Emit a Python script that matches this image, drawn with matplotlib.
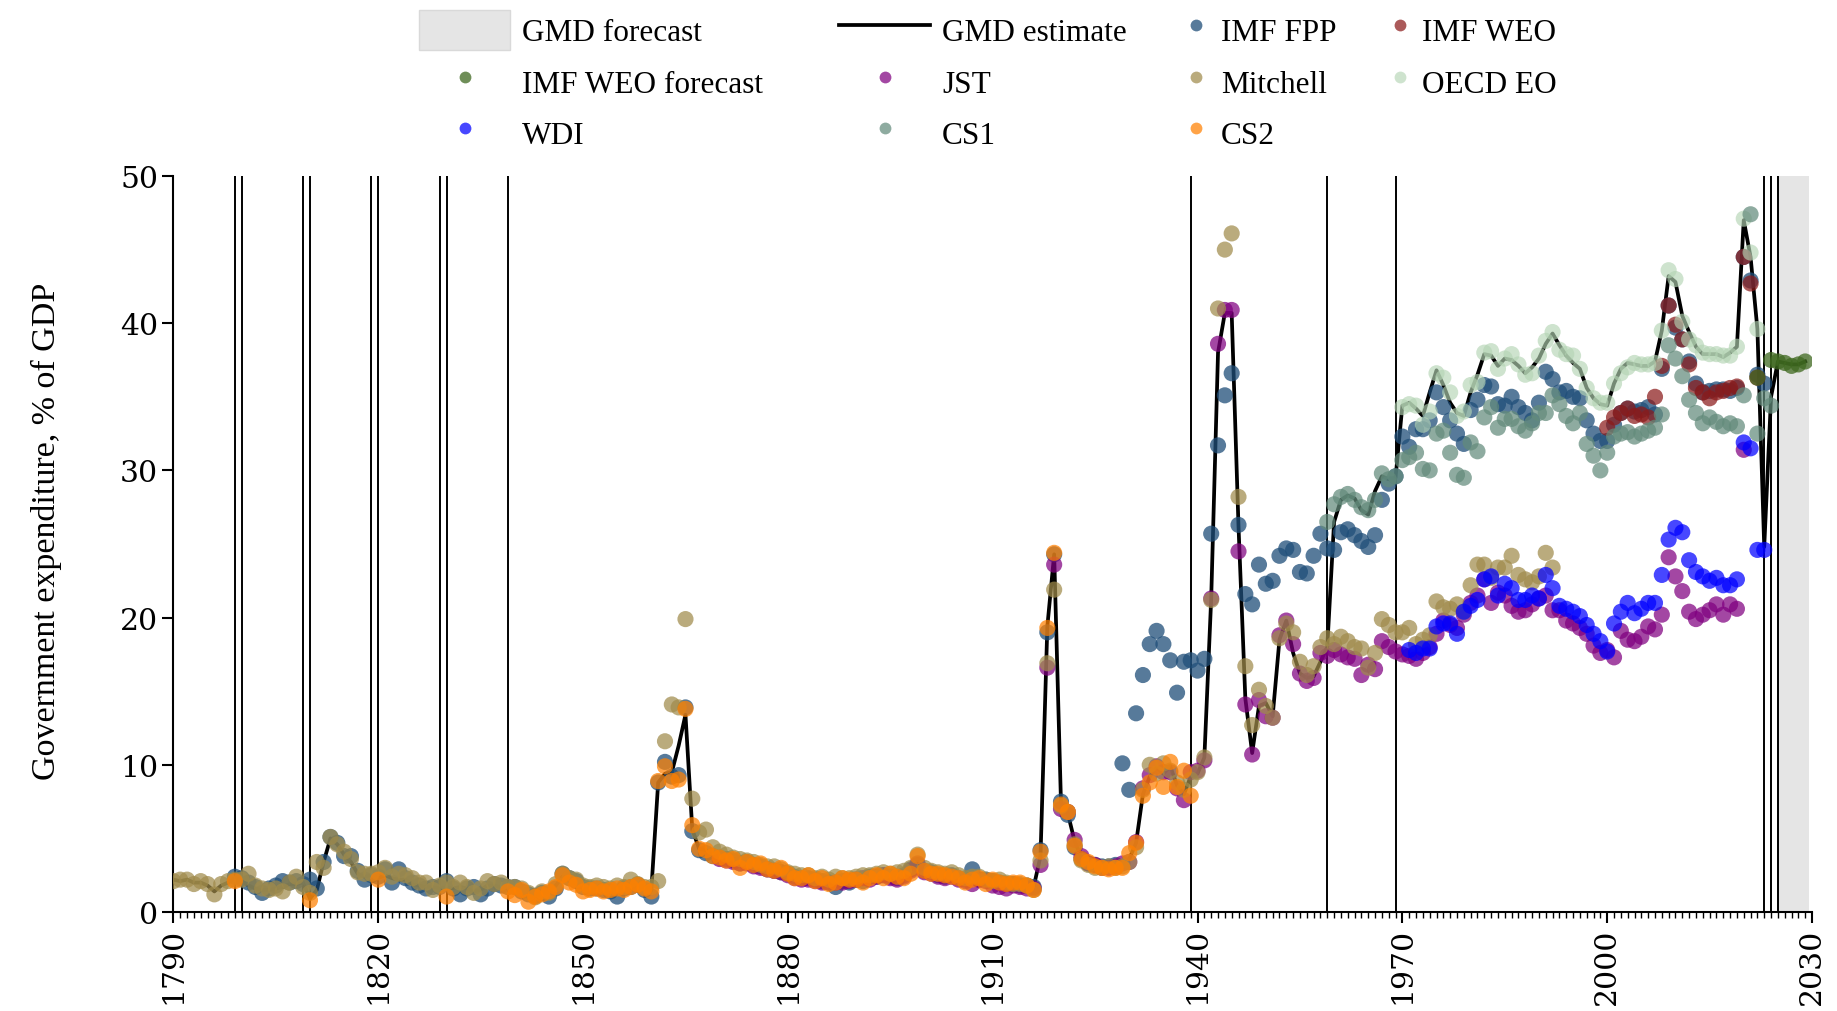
import numpy as np
import matplotlib
matplotlib.use("Agg")
import matplotlib.pyplot as plt
from matplotlib.patches import Patch
from matplotlib.lines import Line2D
from matplotlib.ticker import MultipleLocator

nan = np.nan
plt.rcParams['font.family'] = ['Liberation Serif', 'DejaVu Serif']

# ---------------- data (government expenditure, % of GDP) ----------------
gmd_start = 1790
gmd_values = [
    2.2, 2.1, 2.2, 2.0, 2.0, 1.8, 1.4, 1.8, 2.0, 2.3,      # 1790s
    2.1, 1.8, 1.6, 1.5, 1.5, 1.6, 1.7, 1.9, 1.9, 2.0,      # 1800s
    0.9, 1.5, 3.4, 5.0, 4.6, 3.9, 3.4, 2.6, 2.4, 2.5,      # 1810s
    2.3, 2.5, 2.3, 2.2, 2.2, 1.9, 1.8, 1.7, 1.7, 1.6,      # 1820s
    1.7, 1.6, 1.7, 1.6, 1.4, 1.5, 1.8, 1.8, 1.7, 1.6,      # 1830s
    1.5, 1.3, 1.0, 1.1, 1.3, 1.4, 1.8, 2.4, 2.1, 1.9,      # 1840s
    1.6, 1.5, 1.6, 1.5, 1.5, 1.6, 1.7, 1.8, 1.8, 1.7,      # 1850s
    1.5, 8.8, 9.4, 9.5, 11.3, 13.4, 5.6, 4.3, 4.2, 4.0,    # 1860s
    3.9, 3.7, 3.6, 3.5, 3.5, 3.3, 3.2, 3.1, 3.0, 2.9,      # 1870s
    2.7, 2.5, 2.4, 2.4, 2.3, 2.3, 2.2, 2.2, 2.2, 2.2,      # 1880s
    2.3, 2.4, 2.4, 2.5, 2.6, 2.5, 2.5, 2.6, 3.1, 3.4,      # 1890s
    2.9, 2.8, 2.6, 2.5, 2.6, 2.4, 2.3, 2.2, 2.3, 2.3,      # 1900s
    2.2, 2.1, 2.0, 2.0, 2.0, 1.9, 1.7, 3.8, 19.4, 24.3,    # 1910s
    7.4, 6.7, 4.8, 3.7, 3.4, 3.2, 3.1, 3.2, 3.2, 3.2,      # 1920s
    3.6, 4.7, 8.0, 9.2, 9.8, 9.4, 9.9, 8.6, 8.0, 9.2,      # 1930s
    9.4, 10.5, 21.3, 38.0, 40.7, 40.7, 26.2, 14.5, 10.8, 14.0,   # 1940s
    14.2, 13.3, 18.5, 19.8, 17.6, 16.2, 15.9, 16.0, 17.0, 18.0,  # 1950s
    26.5, 28.0, 28.3, 28.1, 27.3, 27.0, 28.6, 29.6, 29.4, 29.5,  # 1960s
    34.4, 34.6, 34.2, 33.7, 35.3, 36.8, 35.8, 34.6, 33.9, 33.7,  # 1970s
    35.3, 36.5, 37.9, 37.8, 37.1, 37.6, 37.5, 37.1, 36.6, 37.0,  # 1980s
    37.6, 38.6, 39.3, 38.5, 37.8, 37.3, 36.9, 35.6, 34.9, 34.5,  # 1990s
    34.4, 35.9, 36.9, 37.3, 37.2, 37.1, 37.1, 37.4, 39.5, 43.2,  # 2000s
    42.8, 40.5, 39.4, 38.4, 37.9, 37.9, 37.9, 37.7, 38.0, 38.4,  # 2010s
    47.0, 44.5, 39.6, 24.8, 35.0, 37.4, 37.3, 37.2, 37.2, 37.4,  # 2020s
]

fpp_start = 1799
fpp_values = [
    2.4,                                                   # 1799
    2.3, 2.0, 1.7, 1.3, 1.6, 1.8, 2.1, 2.0, 2.1, 1.9,      # 1800s
    2.2, 1.6, 3.4, 5.1, 4.7, 3.8, 3.8, 2.8, 2.2, 2.5,      # 1810s
    2.4, 2.9, 2.0, 2.9, 2.3, 2.0, 1.8, 1.6, 1.7, 1.7,      # 1820s
    2.1, 1.6, 1.2, 1.6, 1.7, 1.2, 1.6, 1.9, 1.8, 1.7,      # 1830s
    1.7, 1.4, 1.2, 1.1, 1.3, 1.05, 1.6, 2.6, 2.3, 2.1,     # 1840s
    1.7, 1.6, 1.6, 1.5, 1.4, 1.05, 1.6, 1.7, 1.85, 1.5,    # 1850s
    1.05, 8.8, 10.2, 9.2, 9.3, 13.9, 5.5, 4.2, 4.0, 3.8,   # 1860s
    3.7, 3.6, 3.5, 3.3, 3.4, 3.2, 3.1, 2.9, 2.8, 2.7,      # 1870s
    2.6, 2.4, 2.3, 2.3, 2.2, 2.1, 2.0, 1.7, 2.1, 2.0,      # 1880s
    2.2, 2.1, 2.4, 2.4, 2.5, 2.4, 2.3, 2.5, 2.9, 3.2,      # 1890s
    2.8, 2.7, 2.5, 2.4, 2.5, 2.3, 2.2, 2.9, 2.2, 2.2,      # 1900s
    2.1, 2.0, 1.9, 1.9, 1.8, 1.8, 1.7, 4.2, 19.0, 24.3,    # 1910s
    7.5, 6.6, 4.4, 3.6, 3.3, 3.2, 3.1, 3.1, 3.2, 10.1,     # 1920s
    8.3, 13.5, 16.1, 18.2, 19.1, 18.2, 17.1, 14.9, 17.0, 17.1,   # 1930s
    16.4, 17.2, 25.7, 31.7, 35.1, 36.6, 26.3, 21.6, 20.9, 23.6,  # 1940s
    22.3, 22.5, 24.2, 24.7, 24.6, 23.1, 23.0, 24.2, 25.7, 24.7,  # 1950s
    24.6, 25.8, 26.0, 25.6, 25.2, 24.8, 25.6, 28.0, 29.1, 29.6,  # 1960s
    32.3, 31.6, 32.8, 32.8, 33.4, 35.3, 34.3, 33.4, 32.5, 31.8,  # 1970s
    34.1, 34.8, 35.8, 35.7, 34.5, 34.4, 35.0, 34.3, 33.9, 33.4,  # 1980s
    34.6, 36.7, 36.2, 35.3, 35.4, 35.0, 34.9, 33.4, 32.5, 32.0,  # 1990s
    32.0, 33.1, 33.9, 34.2, 34.0, 34.1, 34.3, 33.8, 36.9, 41.2,  # 2000s
    39.7, 38.9, 37.4, 35.9, 35.3, 35.4, 35.5, 35.5, 35.4, 35.6,  # 2010s
    44.5, 42.9, 36.5, 35.9,                                # 2020s
]

weo_start = 2000
weo_values = [
    32.9, 33.6, 33.9, 34.2, 33.7, 33.8, 33.6, 35.0, 37.1, 41.2,
    39.9, 38.9, 37.2, 35.6, 35.3, 34.9, 35.3, 35.4, 35.6, 35.7,
    44.5, 42.7, 36.3,
]

weo_fc_start = 2022
weo_fc_values = [36.3, nan, 37.5, 37.4, 37.3, 37.1, 37.2, 37.4]

jst_start = 1870
jst_values = [
    3.6, 3.5, 3.4, 3.3, 3.3, 3.1, 3.0, 2.9, 2.8, 2.7,      # 1870s
    2.5, 2.3, 2.2, 2.2, 2.1, 2.0, 2.0, 2.0, 2.0, 2.1,      # 1880s
    2.2, 2.3, 2.2, 2.4, 2.5, 2.3, 2.2, 2.4, 2.8, 3.3,      # 1890s
    2.7, 2.6, 2.4, 2.3, 2.4, 2.2, 2.1, 1.9, 2.2, 2.1,      # 1900s
    1.8, 1.7, 1.6, 1.8, 1.7, 1.6, 1.6, 3.2, 16.6, 23.6,    # 1910s
    7.0, 6.8, 4.9, 3.8, 3.3, 3.2, 3.0, 3.0, 3.1, 3.3,      # 1920s
    3.4, 4.75, 8.4, 9.3, 9.9, 9.5, 9.5, 8.4, 7.6, 9.5,     # 1930s
    9.6, 10.3, 21.3, 38.6, 40.9, 40.9, 24.5, 14.1, 10.7, 14.4,   # 1940s
    13.3, 13.2, 18.8, 19.8, 18.2, 16.2, 15.7, 15.9, 17.6, 17.4,  # 1950s
    17.8, 17.5, 17.3, 17.2, 16.1, 16.8, 16.5, 18.4, 18.0, 17.7,  # 1960s
    17.5, 17.4, 17.2, 17.6, 18.0, 18.9, 19.8, 19.5, 19.3, 20.2,  # 1970s
    21.0, 21.5, 22.6, 21.0, 21.7, 21.5, 20.8, 20.4, 20.5, 20.9,  # 1980s
    21.3, 21.5, 20.5, 20.5, 19.8, 19.6, 19.3, 18.9, 18.1, 17.6,  # 1990s
    17.8, 17.3, 19.1, 18.5, 18.4, 18.7, 19.4, 19.2, 20.2, 24.1,  # 2000s
    22.8, 21.8, 20.4, 19.9, 20.2, 20.5, 20.9, 20.2, 20.9, 20.6,  # 2010s
    31.4,                                                  # 2020
]

mitchell_start = 1790
mitchell_values = [
    2.1, 2.2, 2.2, 1.9, 2.1, 1.9, 1.2, 1.9, 2.1, 2.2,      # 1790s
    2.2, 2.6, 1.8, 1.6, 1.5, 1.6, 1.4, 2.0, 2.4, 1.7,      # 1800s
    1.3, 3.4, 3.0, 5.1, 4.6, 4.1, 3.6, 2.7, 2.6, 2.6,      # 1810s
    2.7, 3.0, 2.4, 2.6, 2.5, 2.3, 2.0, 2.0, 1.5, 1.8,      # 1820s
    2.0, 1.7, 2.0, 1.7, 1.3, 1.6, 2.1, 1.9, 2.0, 1.7,      # 1830s
    1.7, 1.6, 1.3, 1.0, 1.4, 1.3, 1.9, 2.6, 2.3, 2.2,      # 1840s
    1.8, 1.7, 1.8, 1.7, 1.6, 1.8, 1.7, 2.2, 1.9, 1.7,      # 1850s
    1.7, 2.1, 11.6, 14.1, 13.9, 19.9, 7.7, 5.4, 5.6, 4.4,  # 1860s
    4.1, 3.9, 3.7, 3.6, 3.5, 3.4, 3.2, 3.1, 3.1, 2.9,      # 1870s
    2.7, 2.6, 2.5, 2.5, 2.3, 2.4, 2.2, 2.4, 2.3, 2.3,      # 1880s
    2.4, 2.5, 2.5, 2.6, 2.7, 2.6, 2.7, 2.8, 3.0, 3.9,      # 1890s
    3.0, 2.8, 2.7, 2.6, 2.7, 2.5, 2.3, 2.4, 2.4, 2.2,      # 1900s
    2.1, 2.2, 2.0, 1.9, 1.9, 1.8, 1.5, 3.5, 16.9, 21.9,    # 1910s
    7.2, 6.8, 4.6, 3.5, 3.2, 3.0, 3.0, 3.1, 3.0, 3.1,      # 1920s
    3.4, 4.4, 8.3, 10.0, 9.4, 10.1, 9.6, 8.8, 8.3, 9.0,    # 1930s
    9.5, 10.5, 21.2, 41.0, 45.0, 46.1, 28.2, 16.7, 12.7, 15.1,   # 1940s
    14.0, 13.2, 18.6, 19.6, 19.0, 17.0, 16.1, 16.7, 18.0, 18.6,  # 1950s
    18.2, 18.7, 18.4, 18.0, 17.9, 16.6, 17.6, 19.9, 19.5, 19.0,  # 1960s
    19.0, 19.3, 18.2, 18.5, 18.8, 21.1, 20.7, 20.6, 20.9, 20.4,  # 1970s
    22.2, 23.6, 23.6, 22.7, 23.4, 23.4, 24.2, 22.9, 22.6, 22.4,  # 1980s
    22.8, 24.4, 23.4,                                      # 1990s
]

oecd_start = 1970
oecd_values = [
    34.3, 34.5, 34.4, 33.1, 34.0, 36.6, 36.3, 35.3, 33.7, 34.0,  # 1970s
    35.8, 36.0, 38.0, 38.1, 36.9, 37.6, 37.9, 37.2, 36.5, 36.6,  # 1980s
    37.8, 38.8, 39.4, 38.2, 37.9, 37.8, 36.9, 35.6, 34.9, 34.6,  # 1990s
    34.6, 35.9, 36.6, 37.0, 37.3, 37.2, 37.2, 37.3, 39.5, 43.6,  # 2000s
    43.0, 40.1, 38.9, 38.5, 38.0, 37.9, 37.9, 37.8, 37.8, 38.4,  # 2010s
    47.1, 44.8, 39.6,                                      # 2020s
]

wdi_start = 1971
wdi_values = [
    17.8, 17.6, 17.9, 17.9, 19.4, 19.6, 19.6, 18.9, 20.4,        # 1971-1979
    20.8, 21.2, 22.6, 22.8, 21.5, 22.3, 22.0, 21.2, 21.2, 21.5,  # 1980s
    21.3, 22.9, 22.0, 20.8, 20.6, 20.4, 20.1, 19.5, 18.9, 18.4,  # 1990s
    17.7, 19.6, 20.4, 21.0, 20.3, 20.6, 21.0, 21.0, 22.9, 25.3,  # 2000s
    26.1, 25.8, 23.9, 23.1, 22.8, 22.5, 22.7, 22.2, 22.2, 22.6,  # 2010s
    31.9, 31.5, 24.6, 24.6,                                # 2020s
]

cs1_start = 1959
cs1_values = [
    26.5,                                                  # 1959
    27.7, 28.2, 28.4, 28.0, 27.5, 27.3, 28.0, 29.8, 29.4, 29.6,  # 1960s
    30.7, 30.9, 31.2, 30.1, 30.0, 32.5, 32.7, 31.2, 29.7, 29.5,  # 1970s
    31.9, 31.3, 33.6, 34.3, 32.9, 33.5, 33.5, 33.0, 32.7, 33.2,  # 1980s
    33.9, 33.9, 35.1, 34.5, 33.7, 33.2, 33.9, 31.8, 31.0, 30.0,  # 1990s
    31.2, 32.3, 32.5, 32.6, 32.3, 32.5, 32.7, 32.9, 33.8, 38.5,  # 2000s
    37.6, 36.4, 34.8, 33.9, 33.2, 33.6, 33.3, 33.0, 33.2, 33.0,  # 2010s
    35.1, 47.4, 32.5, 34.9, 34.4,                          # 2020s
]

cs2_early_years = [1799, 1810, 1820, 1830]
cs2_early_values = [2.1, 0.8, 2.2, 1.05]
cs2_start = 1839
cs2_values = [
    1.4,                                                   # 1839
    1.15, 1.5, 0.7, 1.05, 1.2, 1.4, 1.7, 2.5, 2.0, 1.85,   # 1840s
    1.4, 1.5, 1.6, 1.4, 1.5, 1.6, 1.5, 1.7, 1.85, 1.6,     # 1850s
    1.4, 8.9, 9.9, 8.9, 9.0, 13.8, 5.9, 4.3, 4.2, 3.8,     # 1860s
    3.7, 3.5, 3.6, 3.0, 3.4, 3.2, 3.3, 2.9, 2.8, 3.0,      # 1870s
    2.6, 2.3, 2.3, 2.5, 2.1, 2.3, 1.9, 2.0, 2.3, 2.2,      # 1880s
    2.2, 2.0, 2.3, 2.5, 2.3, 2.6, 2.4, 2.3, 2.6, 3.8,      # 1890s
    2.8, 2.6, 2.6, 2.5, 2.4, 2.3, 2.0, 2.2, 2.3, 1.9,      # 1900s
    2.2, 2.0, 1.9, 2.0, 2.0, 1.8, 1.5, 4.1, 19.3, 24.4,    # 1910s
    7.3, 6.8, 4.5, 3.6, 3.4, 3.1, 3.0, 2.9, 3.0, 3.0,      # 1920s
    4.0, 4.7, 7.9, 8.8, 9.8, 8.5, 10.2, 8.5, 9.6, 7.9,     # 1930s
]

break_years = [1799, 1800, 1809, 1810, 1819, 1820, 1829, 1830, 1839,
               1939, 1959, 1969, 2023, 2024, 2025]
forecast_span = (2025, 2029.6)

x_ticks = [1790, 1820, 1850, 1880, 1910, 1940, 1970, 2000, 2030]
y_ticks = [0, 10, 20, 30, 40, 50]


def years_for(start, values):
    return np.arange(start, start + len(values))


# ---------------- styles ----------------
series = [
    ("IMF FPP", fpp_start, fpp_values, "#1f4e79", 0.75),
    ("IMF WEO", weo_start, weo_values, "#8b1a1a", 0.72),
    ("IMF WEO forecast", weo_fc_start, weo_fc_values, "#3f6920", 0.75),
    ("JST", jst_start, jst_values, "#800080", 0.72),
    ("Mitchell", mitchell_start, mitchell_values, "#a08b4b", 0.72),
    ("OECD EO", oecd_start, oecd_values, "#b4d4b4", 0.65),
    ("WDI", wdi_start, wdi_values, "#0000ff", 0.72),
    ("CS1", cs1_start, cs1_values, "#638b7b", 0.72),
    ("CS2", cs2_start, cs2_values, "#ff8000", 0.72),
]

fig = plt.figure(figsize=(18.37, 10.12), dpi=100)
ax = fig.add_axes([0.0944, 0.0978, 0.8920, 0.7273])

ax.axvspan(*forecast_span, color="#e5e5e5", lw=0, zorder=0)
ax.vlines(break_years, 0, 50, color="black", lw=1.4, zorder=1)
ax.plot(years_for(gmd_start, gmd_values), gmd_values, color="black", lw=2.7,
        zorder=2)

msize = 135
for name, start, vals, col, alpha in series:
    ax.scatter(years_for(start, vals), vals, s=msize, color=col, alpha=alpha,
               edgecolors="none", zorder=3)
    if name == "CS2":
        ax.scatter(cs2_early_years, cs2_early_values, s=msize, color=col,
                   alpha=alpha, edgecolors="none", zorder=3)

ax.set_xlim(1790, 2030)
ax.set_ylim(0, 50)
for side in ("top", "right"):
    ax.spines[side].set_visible(False)
for side in ("left", "bottom"):
    ax.spines[side].set_linewidth(1.5)

ax.set_xticks(x_ticks)
ax.set_xticklabels([str(t) for t in x_ticks], rotation=90,
                   fontfamily="DejaVu Serif", fontsize=21.5)
ax.xaxis.set_minor_locator(MultipleLocator(1))
ax.set_yticks(y_ticks)
ax.set_yticklabels([str(t) for t in y_ticks], fontfamily="DejaVu Serif",
                   fontsize=21.5)
ax.tick_params(axis="both", which="major", length=8, width=1.5, pad=3)
ax.tick_params(axis="x", which="minor", length=4, width=1.0)

ax.set_ylabel("Government expenditure, % of GDP", fontsize=24.5,
              fontfamily="Liberation Serif")
ax.yaxis.set_label_coords(-0.068, 0.518)

# ---------------- legend (4 columns) ----------------
colors = {n: c for n, _, _, c, _ in series}
alphas = {n: a for n, _, _, _, a in series}


def mk(name):
    return Line2D([], [], ls="none", marker="o", markersize=8.5,
                  markerfacecolor=colors[name], markeredgecolor="none",
                  alpha=alphas[name])


columns = [
    ([Patch(facecolor="#e5e5e5", edgecolor="#d9d9d9"), mk("IMF WEO forecast"),
      mk("WDI")], ["GMD forecast", "IMF WEO forecast", "WDI"], 419, 2.92, 0.38),
    ([Line2D([], [], color="black", lw=2.7), mk("JST"), mk("CS1")],
     ["GMD estimate", "JST", "CS1"], 839, 2.92, 0.38),
    ([mk("IMF FPP"), mk("Mitchell"), mk("CS2")],
     ["IMF FPP", "Mitchell", "CS2"], 1180, 1.0, 0.31),
    ([mk("IMF WEO"), mk("OECD EO")], ["IMF WEO", "OECD EO"], 1384, 1.0, 0.22),
]
W, H = 1837.0, 1012.0
for handles, labels, xpx, hl, pad in columns:
    fig.legend(handles, labels, loc="upper left",
               bbox_to_anchor=(xpx / W, 1 - 11 / H),
               bbox_transform=fig.transFigure, frameon=False,
               fontsize=22.5, handlelength=hl, handleheight=1.58,
               handletextpad=pad, labelspacing=0.38, borderpad=0,
               borderaxespad=0)

fig.savefig("out.png", dpi=100)
